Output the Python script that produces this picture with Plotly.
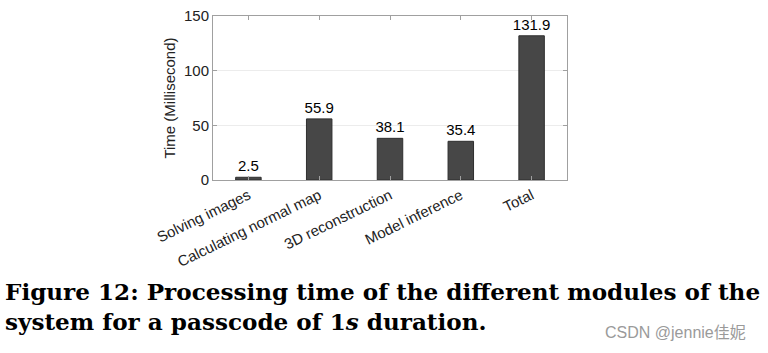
import plotly.graph_objects as go

categories = ["Solving images", "Calculating normal map", "3D reconstruction", "Model inference", "Total"]
values = [2.5, 55.9, 38.1, 35.4, 131.9]
value_labels = ["2.5", "55.9", "38.1", "35.4", "131.9"]
y_ticks = [0, 50, 100, 150]

W, H = 768, 353
L, R, T, B = 213, 768 - 567, 16, 353 - 180
pw, ph = W - L - R, H - T - B

def px_x(x):
    return (x - L) / pw

def px_y(y):
    return (H - B - y) / ph

fig = go.Figure()
fig.add_trace(go.Bar(
    x=categories, y=values, text=value_labels, textposition="outside",
    textfont=dict(family="Liberation Sans, Arial", size=15, color="black"),
    constraintext="none",
    marker=dict(color="#474747", line=dict(color="#2e2e2e", width=1)),
    width=0.36, cliponaxis=False,
))

axis_common = dict(
    showline=True, linecolor="#a0a0a0", linewidth=1, mirror="ticks",
    ticks="inside", ticklen=4, tickcolor="#a0a0a0",
    tickfont=dict(family="Liberation Sans, Arial", size=15, color="#222"),
)

fig.update_layout(
    width=W, height=H, margin=dict(l=L, r=R, t=T, b=B, autoexpand=False),
    paper_bgcolor="white", plot_bgcolor="white", showlegend=False,
    xaxis=dict(**axis_common, tickangle=-26, showgrid=False, range=[-0.5, 4.5]),
    yaxis=dict(**axis_common, range=[0, 150], tickvals=y_ticks, showgrid=True,
               gridcolor="#ececec", zeroline=False,
               title=dict(text="Time (Millisecond)", standoff=4,
                          font=dict(family="Liberation Sans, Arial", size=15, color="#222"))),
    font=dict(family="Liberation Sans, Arial"),
)

cap_font = dict(family="DejaVu Serif", size=23.1, color="black")
fig.add_annotation(text="<b>Figure 12: Processing time of the different modules of the</b>",
                   xref="paper", yref="paper", x=px_x(3), y=px_y(307), xanchor="left", yanchor="bottom",
                   showarrow=False, font=cap_font)
fig.add_annotation(text="<b>system for a passcode of 1<i>s</i> duration.</b>",
                   xref="paper", yref="paper", x=px_x(3), y=px_y(337), xanchor="left", yanchor="bottom",
                   showarrow=False, font=cap_font)
fig.add_annotation(text="CSDN @jennie佳妮",
                   xref="paper", yref="paper", x=px_x(603), y=px_y(343), xanchor="left", yanchor="bottom",
                   showarrow=False, font=dict(family="Liberation Sans, Noto Sans CJK SC", size=16, color="#9a9a9a"))

fig.write_html("out.html")
